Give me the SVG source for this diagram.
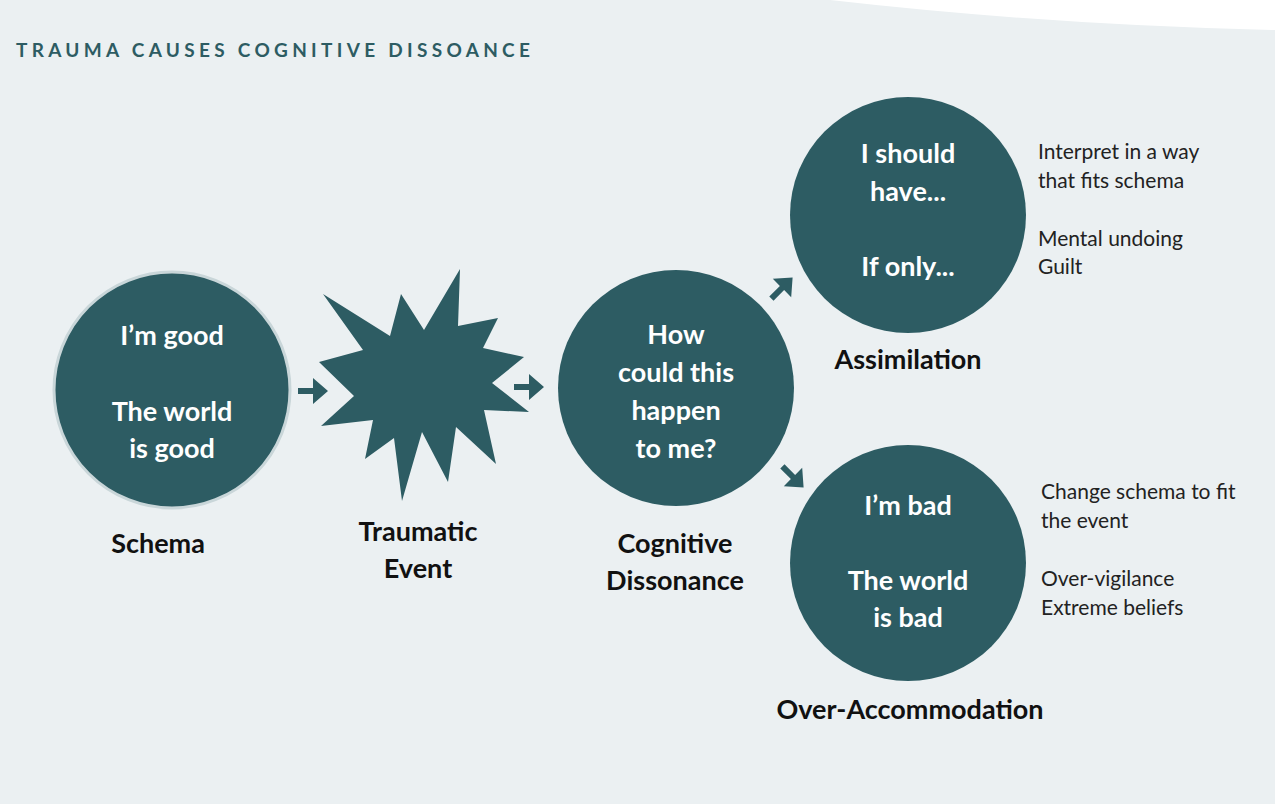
<svg xmlns="http://www.w3.org/2000/svg" width="1275" height="804" viewBox="0 0 1275 804">
<style>
.c{fill:#2d5c63}
.w{fill:#fff;font-family:Lato,"Noto Sans",sans-serif;font-weight:700;font-size:27px;text-anchor:middle}
.l{fill:#111;font-family:Lato,"Noto Sans",sans-serif;font-weight:700;font-size:27px;text-anchor:middle}
.n{fill:#222;font-family:Lato,"Noto Sans",sans-serif;font-size:21px}
</style>
<defs><path id="ar" d="M-15,-3 H0 V-13 L15,0 L0,13 V3 H-15 Z" fill="#2d5c63"/></defs>
<rect width="1275" height="804" fill="#ebf0f2"/>
<path d="M830,0 Q1050,25 1275,30 V0 Z" fill="#fff"/>
<text x="16" y="57" fill="#2d5c63" font-family="Lato,'Noto Sans',sans-serif" font-weight="700" font-size="19" letter-spacing="4.3">TRAUMA CAUSES COGNITIVE DISSOANCE</text>
<g id="connectors">
<use href="#ar" transform="translate(313,391)"/>
<use href="#ar" transform="translate(529,387)"/>
<use href="#ar" transform="translate(782,288) rotate(-45)"/>
<use href="#ar" transform="translate(793,477) rotate(45)"/>
</g>
<g id="schema">
<circle cx="172" cy="390" r="118" class="c" stroke="#c9d6d9" stroke-width="3"/>
<text class="w" x="172" y="345">I’m good</text>
<text class="w" x="172" y="421">The world</text>
<text class="w" x="172" y="458">is good</text>
<text class="l" x="158" y="553">Schema</text>
</g>
<g id="trauma">
<polygon class="c" points="323,294 390,336 401,294 424,330 460,269 458,326 498,318 483,348 524,357 492,383 529,412 484,410 496,464 456,427 448,482 422,432 402,501 394,438 365,459 373,420 321,426 354,396 319,362 363,350"/>
<text class="l" x="418" y="541">Traumatic</text>
<text class="l" x="418" y="578">Event</text>
</g>
<g id="dissonance">
<circle cx="676" cy="388" r="118" class="c"/>
<text class="w" x="676" y="344">How</text>
<text class="w" x="676" y="382">could this</text>
<text class="w" x="676" y="420">happen</text>
<text class="w" x="676" y="458">to me?</text>
<text class="l" x="675" y="553">Cognitive</text>
<text class="l" x="675" y="590">Dissonance</text>
</g>
<g id="assimilation">
<circle cx="908" cy="215" r="118" class="c"/>
<text class="w" x="908" y="163">I should</text>
<text class="w" x="908" y="201">have...</text>
<text class="w" x="908" y="276">If only...</text>
<text class="l" x="908" y="369">Assimilation</text>
<text class="n" x="1038" y="159">Interpret in a way</text>
<text class="n" x="1038" y="188">that fits schema</text>
<text class="n" x="1038" y="246">Mental undoing</text>
<text class="n" x="1038" y="274">Guilt</text>
</g>
<g id="overaccommodation">
<circle cx="908" cy="563" r="118" class="c"/>
<text class="w" x="908" y="515">I’m bad</text>
<text class="w" x="908" y="590">The world</text>
<text class="w" x="908" y="627">is bad</text>
<text class="l" x="910" y="719">Over-Accommodation</text>
<text class="n" x="1041" y="499">Change schema to fit</text>
<text class="n" x="1041" y="528">the event</text>
<text class="n" x="1041" y="586">Over-vigilance</text>
<text class="n" x="1041" y="615">Extreme beliefs</text>
</g>
</svg>
